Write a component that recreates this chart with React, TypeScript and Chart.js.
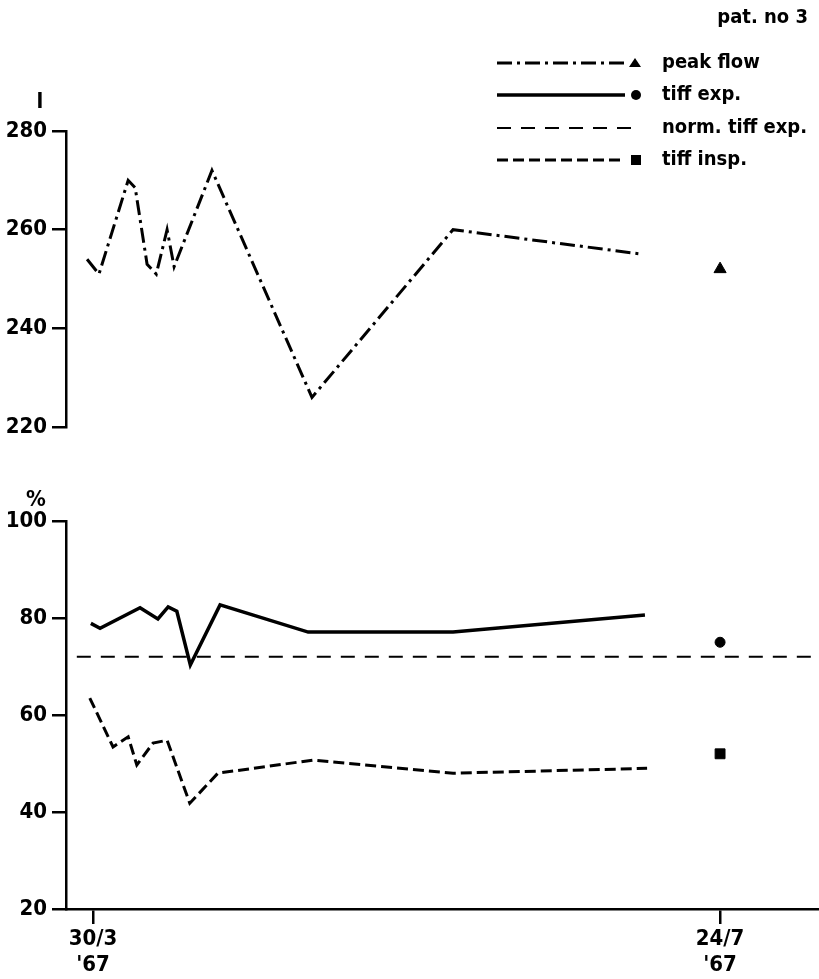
import React, { useEffect, useRef } from 'react';
import { Chart, registerables } from 'chart.js';
Chart.register(...registerables);

const FONT = "'DejaVu Sans Condensed', 'DejaVu Sans', sans-serif";

// x axis: days after 30/3 '67
const X_MIN = -5;
const X_MAX = 134.3;
const xTickDays = [0, 116];
const xTickLabels = [["30/3", "'67"], ["24/7", "'67"]];

// top panel (litres)
const peakDays = [-1.1, 1.1, 6.5, 7.8, 10, 11.7, 13.7, 15, 22, 40.5, 66.6, 101.8];
const peakFlow = [254, 251, 270, 268.5, 253, 251, 260, 252.5, 272, 226, 260, 255];

// bottom panel (%)
const expDays = [-0.4, 1.3, 8.7, 12, 13.9, 15.5, 18, 23.5, 39.8, 66.6, 102.1];
const tiffExp = [78.9, 77.9, 82.1, 79.8, 82.3, 81.4, 70.3, 82.7, 77.1, 77.1, 80.6];

const inspDays = [-0.6, 3.7, 6.5, 8.1, 11.1, 13.7, 17.9, 23.1, 40.7, 66.6, 102.5];
const tiffInsp = [63.5, 53.4, 55.5, 49.7, 54.2, 54.8, 41.8, 48, 50.7, 48, 49];

const normDays = [-3, 134.3];
const normTiffExp = [72, 72];

// separate reference values at 24/7
const refDay = 116;
const refPeak = 252;
const refExp = 75;
const refInsp = 52;

const legendItems = ['peak flow', 'tiff exp.', 'norm. tiff exp.', 'tiff insp.'];

const pts = (xs: number[], ys: number[]) => xs.map((x, i) => ({ x, y: ys[i] }));

const yAxis = (min: number, max: number) => ({
  min,
  max,
  afterFit: (s: any) => { s.width = 66; },
  ticks: { stepSize: 20, color: '#000', padding: 5, font: { family: FONT, size: 22, weight: 'bold' as const } },
  grid: { drawOnChartArea: false, drawTicks: true, tickLength: 14, color: '#000', lineWidth: 2.5 },
  border: { display: true, color: '#000', width: 2.5 },
});

function drawTriangle(ctx: CanvasRenderingContext2D, x: number, y: number) {
  ctx.beginPath();
  ctx.moveTo(x, y - 5);
  ctx.lineTo(x + 6, y + 4);
  ctx.lineTo(x - 6, y + 4);
  ctx.closePath();
  ctx.fill();
}

const topPlugin = {
  id: 'topDecor',
  afterDraw(chart: any) {
    const ctx: CanvasRenderingContext2D = chart.ctx;
    ctx.save();
    ctx.fillStyle = '#000';
    ctx.strokeStyle = '#000';
    ctx.font = `bold 22px ${FONT}`;
    ctx.textBaseline = 'middle';
    ctx.textAlign = 'center';
    ctx.fillText('l', 40, 102);
    ctx.font = `bold 20px ${FONT}`;
    ctx.textAlign = 'right';
    ctx.fillText('pat. no 3', 808, 18);
    const rows = [63, 95, 128, 160];
    const dashes = [[15, 5, 3, 5], [], [14, 10], [11, 5]];
    const widths = [3, 3.5, 2, 3];
    rows.forEach((y, i) => {
      ctx.setLineDash(dashes[i]);
      ctx.lineWidth = widths[i];
      ctx.beginPath();
      ctx.moveTo(497, y);
      ctx.lineTo(i === 2 ? 632 : 625, y);
      ctx.stroke();
      ctx.setLineDash([]);
      if (i === 0) drawTriangle(ctx, 635, y);
      if (i === 1) { ctx.beginPath(); ctx.arc(636, y, 5, 0, Math.PI * 2); ctx.fill(); }
      if (i === 3) ctx.fillRect(631, y - 5, 10, 10);
      ctx.textAlign = 'left';
      ctx.fillText(legendItems[i], 662, y);
    });
    ctx.restore();
  },
};

const bottomPlugin = {
  id: 'bottomDecor',
  afterDraw(chart: any) {
    const ctx: CanvasRenderingContext2D = chart.ctx;
    ctx.save();
    ctx.fillStyle = '#000';
    ctx.font = `bold 22px ${FONT}`;
    ctx.textBaseline = 'middle';
    ctx.textAlign = 'center';
    ctx.fillText('%', 36, 50);
    ctx.restore();
  },
};

export default function App() {
  const topRef = useRef<HTMLCanvasElement>(null);
  const botRef = useRef<HTMLCanvasElement>(null);

  useEffect(() => {
    const common = {
      responsive: false,
      animation: false as const,
      plugins: { legend: { display: false }, tooltip: { enabled: false } },
      elements: { line: { tension: 0, borderColor: '#000' } },
    };

    const top = new Chart(topRef.current!, {
      type: 'line',
      data: {
        datasets: [
          {
            data: pts(peakDays, peakFlow),
            borderColor: '#000',
            borderWidth: 3,
            borderDash: [15, 5, 3, 5],
            pointRadius: 0,
            fill: false,
          },
          {
            data: [{ x: refDay, y: refPeak }],
            showLine: false,
            pointStyle: 'triangle',
            pointRadius: 7,
            backgroundColor: '#000',
            borderColor: '#000',
          },
        ],
      },
      options: {
        ...common,
        layout: { autoPadding: false, padding: { top: 131, bottom: 23, left: 0, right: 0 } },
        scales: {
          x: { type: 'linear', min: X_MIN, max: X_MAX, display: false },
          y: yAxis(220, 280),
        },
      } as any,
      plugins: [topPlugin],
    });

    const bottom = new Chart(botRef.current!, {
      type: 'line',
      data: {
        datasets: [
          {
            data: pts(normDays, normTiffExp),
            borderColor: '#000',
            borderWidth: 2,
            borderDash: [14, 10],
            pointRadius: 0,
          },
          {
            data: pts(expDays, tiffExp),
            borderColor: '#000',
            borderWidth: 3.5,
            pointRadius: 0,
          },
          {
            data: pts(inspDays, tiffInsp),
            borderColor: '#000',
            borderWidth: 3,
            borderDash: [11, 5],
            pointRadius: 0,
          },
          {
            data: [{ x: refDay, y: refExp }],
            showLine: false,
            pointStyle: 'circle',
            pointRadius: 5,
            backgroundColor: '#000',
            borderColor: '#000',
          },
          {
            data: [{ x: refDay, y: refInsp }],
            showLine: false,
            pointStyle: 'rect',
            pointRadius: 7,
            backgroundColor: '#000',
            borderColor: '#000',
          },
        ],
      },
      options: {
        ...common,
        layout: { autoPadding: false, padding: { top: 71, bottom: 0, left: 0, right: 0 } },
        scales: {
          x: {
            type: 'linear',
            min: X_MIN,
            max: X_MAX,
            afterFit: (s: any) => { s.height = 70; },
            afterBuildTicks: (s: any) => { s.ticks = xTickDays.map((v) => ({ value: v })); },
            ticks: {
              autoSkip: false,
              maxRotation: 0,
              padding: 3,
              color: '#000',
              font: { family: FONT, size: 22, weight: 'bold', lineHeight: 1.15 },
              callback: (_v: any, i: number) => xTickLabels[i],
            },
            grid: { drawOnChartArea: false, drawTicks: true, tickLength: 15, color: '#000', lineWidth: 2.5 },
            border: { display: true, color: '#000', width: 2.5 },
          },
          y: yAxis(20, 100),
        },
      } as any,
      plugins: [bottomPlugin],
    });

    return () => { top.destroy(); bottom.destroy(); };
  }, []);

  return (
    <div style={{ position: 'fixed', left: 0, top: 0, width: 819, height: 979, background: '#fff' }}>
      <canvas ref={topRef} width={819} height={450} style={{ position: 'absolute', left: 0, top: 0, display: 'block' }} />
      <canvas ref={botRef} width={819} height={529} style={{ position: 'absolute', left: 0, top: 450, display: 'block' }} />
    </div>
  );
}
